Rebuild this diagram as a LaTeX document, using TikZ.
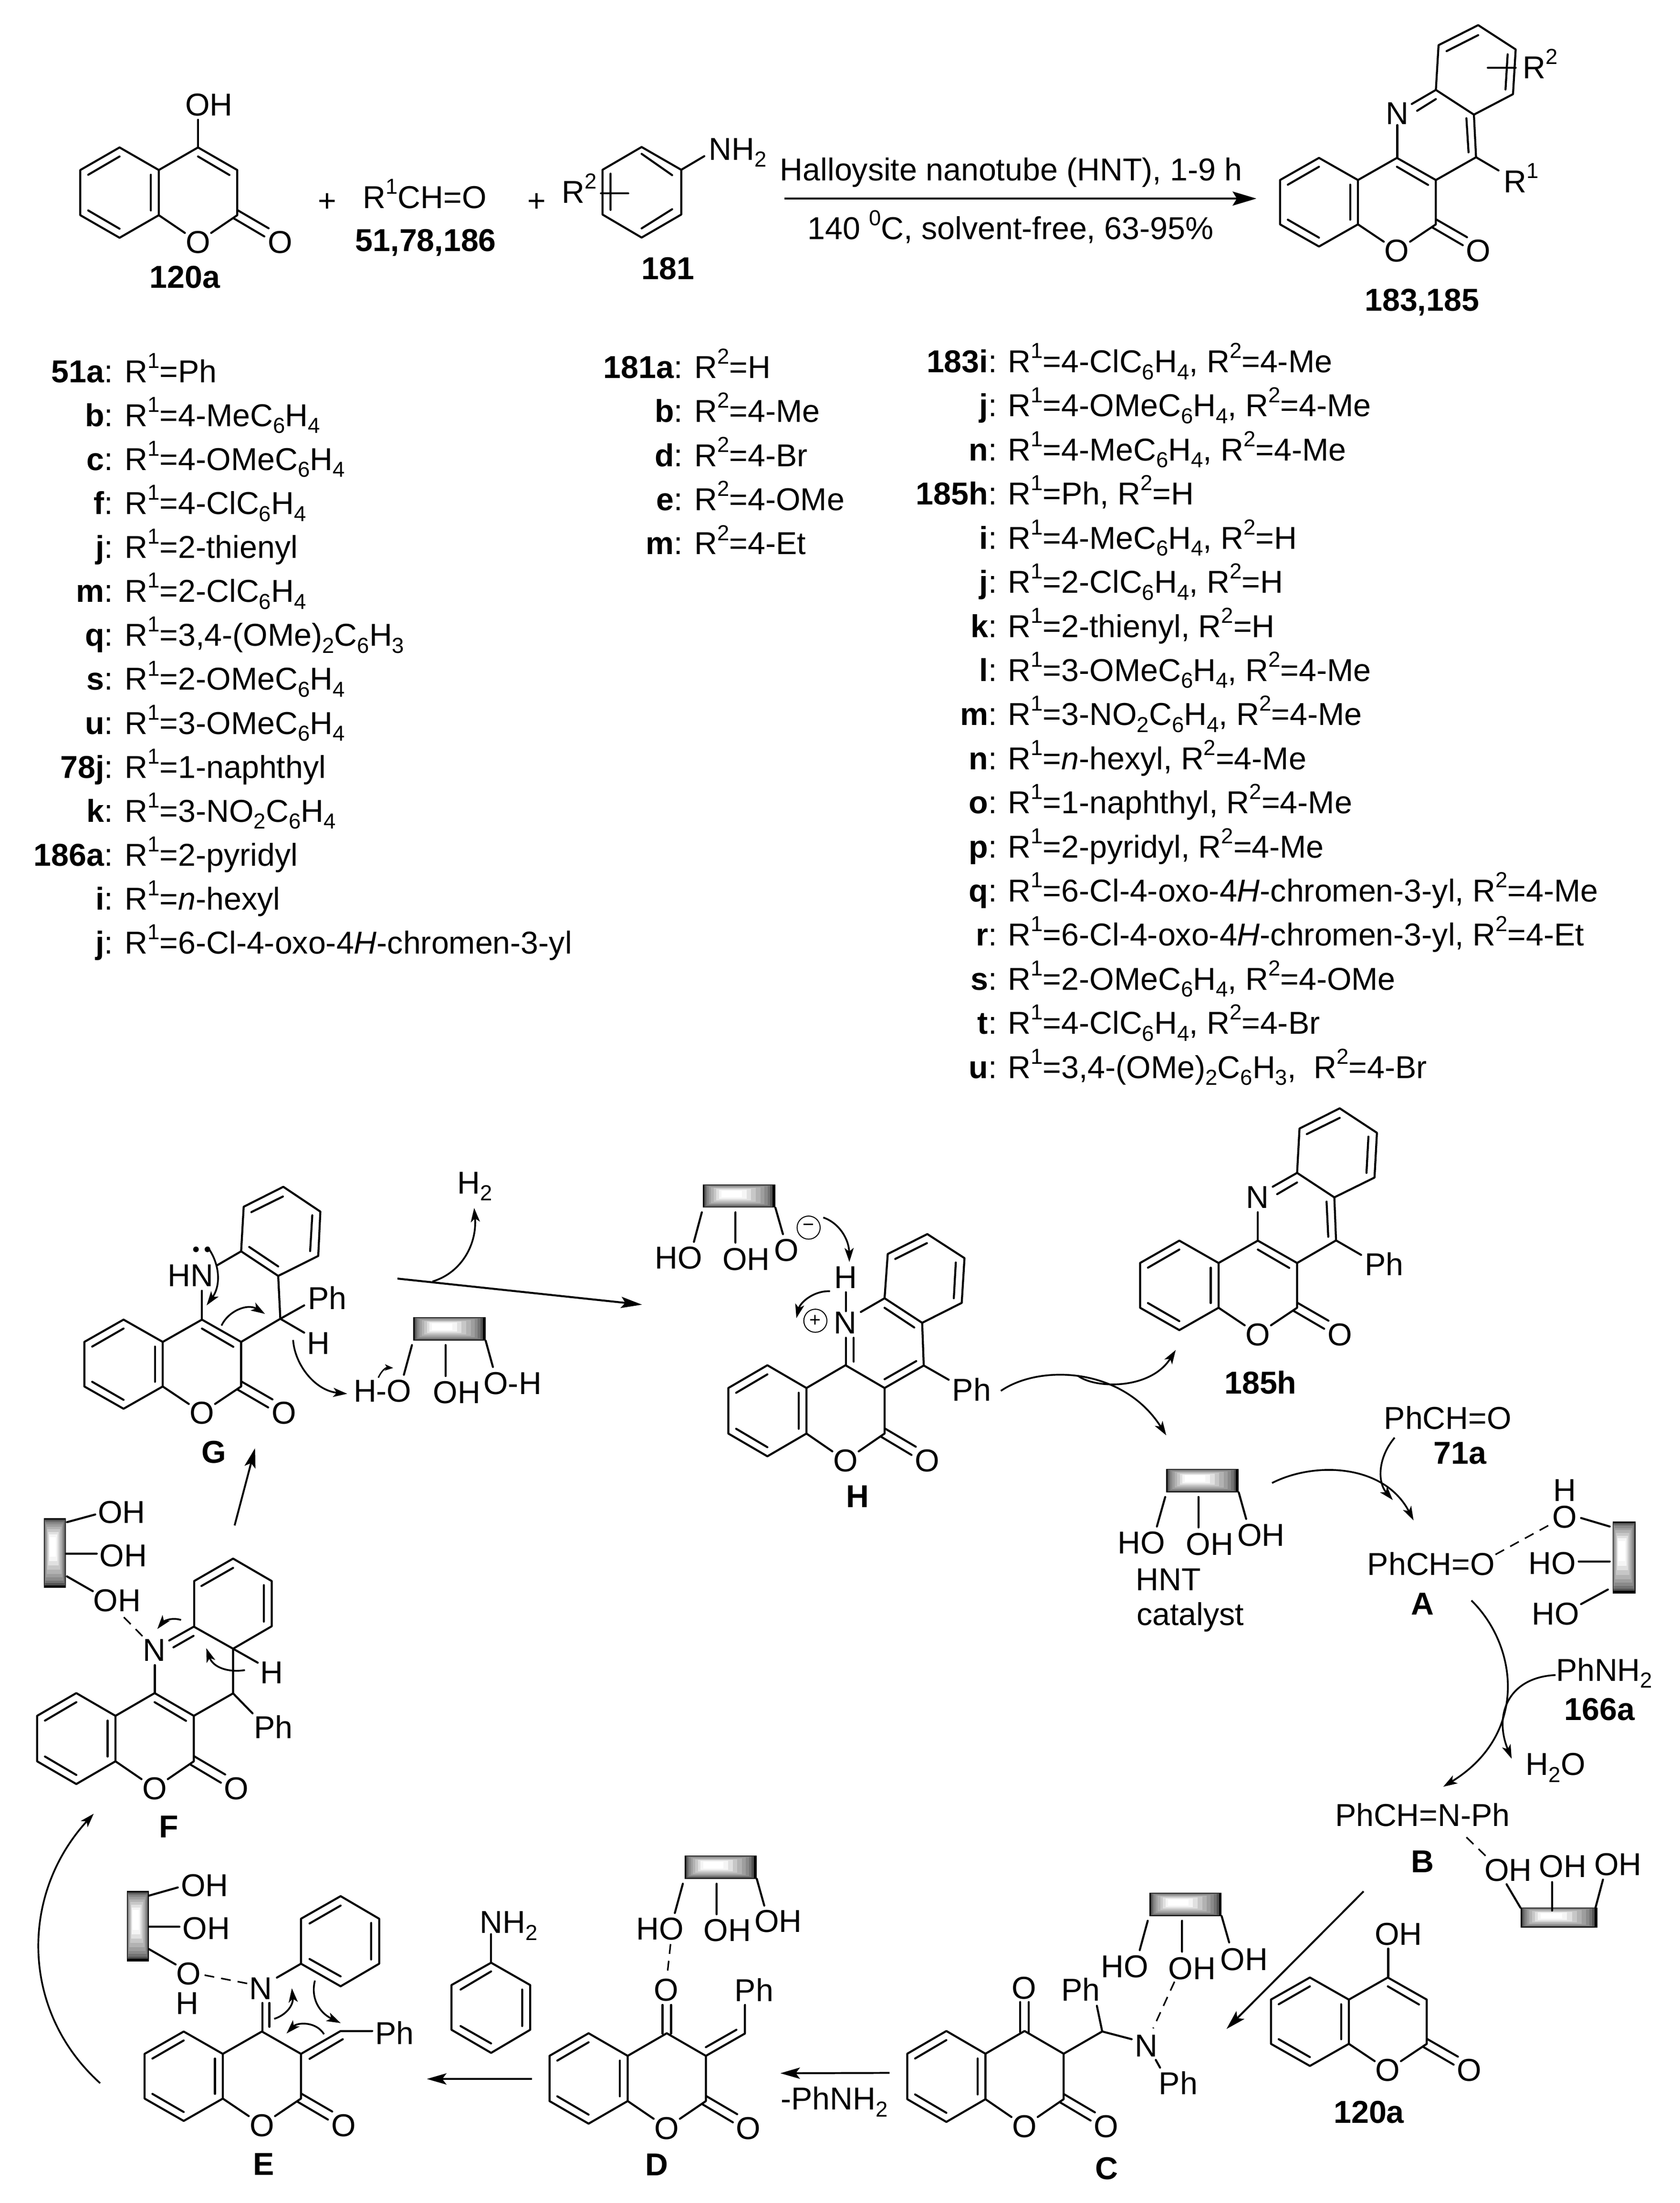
\documentclass[tikz,border=0pt]{standalone}
\usepackage{fontspec}
\setmainfont{Liberation Sans}
\usetikzlibrary{arrows.meta}
\newcommand{\fs}{\fontsize{22.6}{26}\selectfont}
\newcommand{\sps}[1]{\raisebox{0.45em}{\fontsize{15.5}{15.5}\selectfont #1}}
\newcommand{\sbs}[1]{\raisebox{-0.22em}{\fontsize{15.5}{15.5}\selectfont #1}}
\newcounter{lic}
\tikzset{
  lab/.style={font=\fs, inner sep=.4pt, text height=16.2pt, text depth=0pt},
  tagb/.style={lab, font=\fs\bfseries},
  bond/.style={line width=1.45pt, line join=round, line cap=round},
  dbond/.style={line width=1.1pt, dash pattern=on 7pt off 5pt},
  curv/.style={line width=1.25pt, -{Stealth[length=10pt,width=6.5pt,inset=2.5pt]}},
  straight/.style={line width=1.35pt, -{Stealth[length=14pt,width=8pt,inset=3pt]}},
  circ/.style={circle, draw, line width=.7pt, minimum size=16.5pt, inner sep=0pt},
  z1/.style={shift={(0pt,0pt)},x=.38265pt,y=-.15219pt},
  z2/.style={shift={(600pt,0pt)},x=.38265pt,y=-.15219pt},
  z3/.style={shift={(0pt,-801.1pt)},x=.30438pt,y=-.17393pt},
  z4/.style={shift={(443.2pt,-784.1pt)},x=.28264pt,y=-.18480pt},
  z5/.style={shift={(681.8pt,-954.5pt)},x=.33047pt,y=-.21741pt},
  z6/.style={shift={(0pt,-1022.7pt)},x=.21741pt,y=-.19567pt},
  z7/.style={shift={(0pt,-1295.5pt)},x=.38265pt,y=-.17741pt},
  z8/.style={shift={(600pt,-1227.3pt)},x=.38265pt,y=-.22089pt},
  z9/.style={shift={(784.1pt,-767pt)},x=.17393pt,y=-.15219pt},
}
% coumarin skeleton: name, left x, half-width, upper y, lower y
\newcommand{\coum}[5]{%
  \pgfmathsetmacro\cD{#3}\pgfmathsetmacro\cXa{#2}\pgfmathsetmacro\cXb{#2+#3}%
  \pgfmathsetmacro\cXc{#2+2*#3}\pgfmathsetmacro\cXd{#2+3*#3}\pgfmathsetmacro\cXe{#2+4*#3}%
  \pgfmathsetmacro\cH{#5-#4}\pgfmathsetmacro\cYa{#4-.5*\cH}\pgfmathsetmacro\cYd{#5+.5*\cH}%
  \pgfmathsetmacro\cYb{#4}\pgfmathsetmacro\cYc{#5}%
  \pgfmathsetmacro\cYo{#5+.59*\cH}\pgfmathsetmacro\cXo{\cXe+1.09*#3}%
  \node[lab] (#1O) at (\cXd,\cYo) {O};
  \node[lab] (#1Oc) at (\cXo,\cYo) {O};
  \draw[bond] (\cXa,\cYb)--(\cXb,\cYa)--(\cXc,\cYb)--(\cXc,\cYc)--(\cXb,\cYd)--(\cXa,\cYc)--cycle;
  \draw[bond] (\cXc,\cYb)--(\cXd,\cYa)--(\cXe,\cYb)--(\cXe,\cYc)--(#1O);
  \draw[bond] (\cXc,\cYc)--(#1O);
  \draw[bond] ({\cXa+.2*\cD},{\cYb+.105*\cH})--({\cXb},{\cYa+.2*\cH});
  \draw[bond] ({\cXa+.2*\cD},{\cYc-.105*\cH})--({\cXb},{\cYd-.2*\cH});
  \draw[bond] ({\cXc-.2*\cD},{\cYb+.105*\cH})--({\cXc-.2*\cD},{\cYc-.105*\cH});
  \draw[bond] ({\cXe+.01*\cD},{\cYc-.11*\cH})--({\cXe+.8*\cD},{\cYc+.29*\cH});
  \draw[bond] ({\cXe-.09*\cD},{\cYc+.07*\cH})--({\cXe+.69*\cD},{\cYc+.47*\cH});
}
% inner line of the C3=C4 bond of the last skeleton
\newcommand{\ccdb}{\draw[bond] ({\cXd},{\cYa+.2*\cH})--({\cXe-.2*\cD},{\cYb+.11*\cH});}
% stepped grey block: x1,y1,x2,y2
\newcommand{\hnt}[4]{%
  \pgfmathsetmacro\hFx{#1+.36*(#3-#1)}\pgfmathsetmacro\hFy{#2+.38*(#4-#2)}%
  \foreach \t/\c in {0/100,.06/68,.11/55,.17/46,.24/38,.32/30,.42/22,.52/12,.62/4,.72/0}{%
    \pgfmathsetmacro\hA{#1+\t*(\hFx-#1)}\pgfmathsetmacro\hB{#2+\t*(\hFy-#2)}%
    \pgfmathsetmacro\hC{#3+\t*(\hFx-#3)}\pgfmathsetmacro\hD{#4+\t*(\hFy-#4)}%
    \fill[black!\c] (\hA,\hB) rectangle (\hC,\hD);
  }%
}
% list line: y, x where the colon ends, label, x of text, text
\newcommand{\li}[5]{%
  \stepcounter{lic}%
  \node[lab,anchor=east,inner sep=0pt] (lb\arabic{lic}) at (#2,{#1+2}) {\textbf{#3}:};
  \node[lab,anchor=west,inner sep=0pt] (lt\arabic{lic}) at (#4,{#1+2}) {#5};
}
\newcommand{\Rr}[1]{R\sps{#1}=}
\begin{document}
\begin{tikzpicture}[x=1pt,y=-1pt]
\useasboundingbox (0,0) rectangle (1200,1573.6);
\fill[white] (0,0) rectangle (1200,1573.6);

%%%%% top scheme, reactants
\begin{scope}[z1]
  \coum{a}{150}{73.25}{798}{1010}\ccdb
  \node[lab] (aOH) at (390,490) {OH};
  \draw[bond] (370,692)--(370,562);
  \node[tagb] (t120) at (345,1298) {120a};
  \node[lab] (p1) at (611,940) {+};
  \node[lab] (rcho) at (793,925) {R\sps{1}CH=O};
  \node[tagb] (t51) at (795,1125) {51,78,186};
  \node[lab] (p2) at (1002,940) {+};
  \node[lab] (r2a) at (1082,900) {R\sps{2}};
  \draw[bond] (1198,690)--(1272,797)--(1272,1007)--(1198,1115)--(1125,1007)--(1125,797)--cycle;
  \draw[bond] (1198,722)--(1255,822) (1255,982)--(1198,1072) (1140,815)--(1140,985);
  \draw[bond] (1122,908)--(1173,908);
  \draw[bond] (1272,797)--(1315,733);
  \node[lab,anchor=west] (nh2a) at (1322,698) {NH\sbs{2}};
  \node[tagb] (t181) at (1247,1258) {181};
  \coordinate (ra) at (1465,932);
\end{scope}
\begin{scope}[z2]
  \coum{b}{822}{72.75}{845}{1053}\ccdb
  \node[lab] (bN) at (1041,530) {N};
  \draw[bond] (1041,738)--(bN);
  \draw[bond] (1113,422)--(1118,212)--(1192,118)--(1262,232)--(1257,442)--(1184,538)--cycle;
  \draw[bond] (1133,240)--(1192,165) (1247,255)--(1243,420);
  \draw[bond] (1113,422)--(1068,488) (1113,465)--(1078,520);
  \draw[bond] (1184,538)--(1188,738)--(1113,845);
  \draw[bond] (1170,555)--(1174,715);
  \draw[bond] (1188,738)--(1230,800);
  \node[lab] (r1b) at (1272,850) {R\sps{1}};
  \draw[bond] (1210,318)--(1262,318);
  \node[lab] (r2b) at (1308,315) {R\sps{2}};
  \node[tagb] (t183) at (1087,1405) {183,185};
  \coordinate (rb) at (778,932);
\end{scope}
\draw[line width=1.5pt,-{Stealth[length=17pt,width=10pt,inset=3pt]}] (ra)--(rb);
\node[lab] (cond1) at (722.5,121) {Halloysite nanotube (HNT), 1-9 h};
\node[lab] (cond2) at (722,163) {140 \sps{0}C, solvent-free, 63-95\%};

%%%%% substituent lists
\foreach \yy/\lb/\tx in {
 263/51a/{\Rr1Ph},
 294.4/b/{\Rr14-MeC\sbs{6}H\sbs{4}},
 325.8/c/{\Rr14-OMeC\sbs{6}H\sbs{4}},
 357.2/f/{\Rr14-ClC\sbs{6}H\sbs{4}},
 388.6/j/{\Rr12-thienyl},
 420/m/{\Rr12-ClC\sbs{6}H\sbs{4}},
 451.4/q/{\Rr13,4-(OMe)\sbs{2}C\sbs{6}H\sbs{3}},
 482.8/s/{\Rr12-OMeC\sbs{6}H\sbs{4}},
 514.2/u/{\Rr13-OMeC\sbs{6}H\sbs{4}},
 545.6/78j/{\Rr11-naphthyl},
 577/k/{\Rr13-NO\sbs{2}C\sbs{6}H\sbs{4}},
 608.4/186a/{\Rr12-pyridyl},
 639.8/i/{\Rr1\textit{n}-hexyl},
 671.2/j/{\Rr16-Cl-4-oxo-4\textit{H}-chromen-3-yl}}
 {\li{\yy}{81}{\lb}{89}{\tx}}
\foreach \yy/\lb/\tx in {
 260/181a/{\Rr2H},
 291.5/b/{\Rr24-Me},
 323/d/{\Rr24-Br},
 354.5/e/{\Rr24-OMe},
 386/m/{\Rr24-Et}}
 {\li{\yy}{488}{\lb}{496}{\tx}}
\foreach \yy/\lb/\tx in {
 256/183i/{\Rr14-ClC\sbs{6}H\sbs{4}, \Rr24-Me},
 287.5/j/{\Rr14-OMeC\sbs{6}H\sbs{4}, \Rr24-Me},
 319/n/{\Rr14-MeC\sbs{6}H\sbs{4}, \Rr24-Me},
 350.5/185h/{\Rr1Ph, \Rr2H},
 382/i/{\Rr14-MeC\sbs{6}H\sbs{4}, \Rr2H},
 413.5/j/{\Rr12-ClC\sbs{6}H\sbs{4}, \Rr2H},
 445/k/{\Rr12-thienyl, \Rr2H},
 476.5/l/{\Rr13-OMeC\sbs{6}H\sbs{4}, \Rr24-Me},
 508/m/{\Rr13-NO\sbs{2}C\sbs{6}H\sbs{4}, \Rr24-Me},
 539.5/n/{\Rr1\textit{n}-hexyl, \Rr24-Me},
 571/o/{\Rr11-naphthyl, \Rr24-Me},
 602.5/p/{\Rr12-pyridyl, \Rr24-Me},
 634/q/{\Rr16-Cl-4-oxo-4\textit{H}-chromen-3-yl, \Rr24-Me},
 665.5/r/{\Rr16-Cl-4-oxo-4\textit{H}-chromen-3-yl, \Rr24-Et},
 697/s/{\Rr12-OMeC\sbs{6}H\sbs{4}, \Rr24-OMe},
 728.5/t/{\Rr14-ClC\sbs{6}H\sbs{4}, \Rr24-Br},
 760/u/{\Rr13,4-(OMe)\sbs{2}C\sbs{6}H\sbs{3},\ \ \Rr24-Br}}
 {\li{\yy}{712.5}{\lb}{720}{\tx}}

%%%%% G
\begin{scope}[z3]
  \coum{g}{198}{92}{905}{1088}\ccdb
  \node[lab] (gN) at (447,630) {HN};
  \draw[bond] (474,810)--(474,695);
  \draw[bond] (510,590)--(566,533);
  \draw[bond] (566,533)--(572,350)--(665,268)--(752,370)--(747,552)--(653,634)--cycle;
  \draw[bond] (590,372)--(664,308) (733,385)--(728,532) (585,515)--(653,595);
  \draw[bond] (653,634)--(658,810)--(566,905);
  \draw[bond] (658,810)--(714,755) (658,810)--(714,867);
  \node[lab] (gPh) at (768,725) {Ph};
  \node[lab] (gH) at (748,908) {H};
  \fill (460,525) circle[radius=2pt] (487,525) circle[radius=2pt];
  \draw[curv] (487,515) .. controls (515,580) and (520,670) .. (485,755);
  \draw[curv] (520,838) .. controls (535,780) and (580,745) .. (622,790);
  \draw[curv] (688,897) .. controls (692,1000) and (740,1105) .. (815,1118);
  \draw[curv,line width=1pt,-{Stealth[length=6pt,width=4.5pt,inset=1.5pt]}] (888,1052) .. controls (895,1025) and (905,1010) .. (923,1012);
  \hnt{970}{803}{1140}{900}
  \draw[bond] (967,918)--(948,1040) (1046,918)--(1046,1045) (1140,900)--(1157,1008);
  \node[lab] (ho1) at (898,1105) {H-O};
  \node[lab] (ho2) at (1072,1110) {OH};
  \node[lab] (ho3) at (1203,1073) {O-H};
  \node[lab] (h2) at (1115,250) {H\sbs{2}};
  \draw[curv] (1015,657) .. controls (1085,620) and (1120,500) .. (1113,355);
  \draw[line width=1.4pt,-{Stealth[length=15pt,width=8pt,inset=3pt]}] (933,645)--(1507,752);
  \node[tagb] (tG) at (502,1355) {G};
\end{scope}

%%%%% H
\begin{scope}[z4]
  \coum{h}{273}{98.75}{1122}{1298}
  \node[lab] (hN) at (568,868) {N};
  \node[lab] (hH) at (570,693) {H};
  \draw[bond] (570,1035)--(570,928) (590,1020)--(590,928);
  \draw[bond] (570,825)--(570,752);
  \draw[bond] (608,828)--(668,775);
  \draw[bond] (668,775)--(676,604)--(776,527)--(870,620)--(863,793)--(763,870)--cycle;
  \draw[bond] (695,623)--(775,562) (848,637)--(843,775) (668,812)--(743,888);
  \draw[bond] (763,870)--(767,1035)--(668,1122);
  \draw[bond] (748,1018)--(668,1088);
  \draw[bond] (767,1035)--(830,1090);
  \node[lab] (hPh) at (888,1128) {Ph};
  \node[circ] (hp) at (493,862) {\fontsize{14}{14}\selectfont +};
  \node[circ] (hm) at (476,502) {\fontsize{14}{14}\selectfont −};
  \hnt{208}{335}{392}{425}
  \draw[bond] (206,443)--(186,557) (291,443)--(291,560) (392,425)--(411,527);
  \node[lab] (hho1) at (147,617) {HO};
  \node[lab] (hho2) at (318,622) {OH};
  \node[lab] (hho3) at (420,588) {O};
  \draw[curv] (513,463) .. controls (555,485) and (578,550) .. (579,635);
  \draw[curv] (530,748) .. controls (490,745) and (455,790) .. (445,852);
  \draw[curv] (962,1133) .. controls (1060,1030) and (1270,1040) .. (1380,1305);
  \draw[curv] (1157,1075) .. controls (1200,1125) and (1340,1130) .. (1404,975);
  \node[tagb] (tH) at (600,1540) {H};
\end{scope}

%%%%% 185h
\begin{scope}[z9]
  \coum{p}{175}{161.25}{888}{1098}\ccdb
  \node[lab] (pN) at (658,577) {N};
  \draw[bond] (659,782)--(659,650);
  \draw[bond] (720,530)--(820,465) (738,565)--(820,510);
  \draw[bond] (820,465)--(830,257)--(995,162)--(1148,277)--(1138,487)--(973,580)--cycle;
  \draw[bond] (860,283)--(995,207) (1113,295)--(1105,465);
  \draw[bond] (973,580)--(980,782)--(820,888);
  \draw[bond] (941,600)--(948,765);
  \draw[bond] (980,782)--(1083,850);
  \node[lab] (pPh) at (1178,893) {Ph};
  \node[tagb] (t185) at (670,1448) {185h};
\end{scope}

%%%%% catalyst and A
\begin{scope}[z5]
  \node[lab] (al) at (1067,267) {PhCH=O};
  \node[tagb] (t71) at (1093,382) {71a};
  \draw[curv] (952,333) .. controls (915,400) and (915,480) .. (948,538);
  \draw[curv] (687,482) .. controls (780,410) and (930,420) .. (993,605);
  \hnt{458}{436}{615}{513}
  \draw[bond] (456,528)--(438,625) (528,528)--(528,628) (615,513)--(631,600);
  \node[lab] (cho1) at (405,677) {HO};
  \node[lab] (cho2) at (552,682) {OH};
  \node[lab] (cho3) at (663,652) {OH};
  \node[lab] (hnt) at (463,797) {HNT};
  \node[lab] (cat) at (510,912) {catalyst};
  \node[lab] (aal) at (1031,747) {PhCH=O};
  \node[tagb] (tA) at (1012,877) {A};
  \node[lab] (aO) at (1320,592) {O};
  \node[lab] (aH) at (1320,505) {H};
  \draw[dbond] (1170,717)--(1290,617);
  \hnt{1423}{608}{1473}{845}
  \draw[bond] (1355,597)--(1417,625) (1350,740)--(1417,740) (1355,880)--(1413,832);
  \node[lab] (aho1) at (1293,744) {HO};
  \node[lab] (aho2) at (1300,910) {HO};
  \draw[curv] (1118,868) .. controls (1220,1020) and (1240,1310) .. (1057,1480);
  \node[lab] (an) at (1405,1095) {PhNH\sbs{2}};
  \node[tagb] (t166) at (1395,1225) {166a};
  \node[lab] (wat) at (1300,1405) {H\sbs{2}O};
  \draw[curv] (1300,1113) .. controls (1200,1120) and (1165,1240) .. (1205,1388);
\end{scope}

%%%%% B, C, lower 120a
\begin{scope}[z8]
  \node[lab] (im) at (1088,313) {PhCH=N-Ph};
  \node[tagb] (tB) at (1088,463) {B};
  \draw[dbond] (1170,385)--(1210,452);
  \node[lab] (boh1) at (1248,490) {OH};
  \node[lab] (boh2) at (1350,478) {OH};
  \node[lab] (boh3) at (1453,472) {OH};
  \hnt{1271}{613}{1415}{677}
  \draw[bond] (1245,537)--(1271,613) (1330,530)--(1330,622) (1425,522)--(1411,613);
  \draw[straight] (978,560)--(722,1005);
  \hnt{578}{565}{713}{640}
  \draw[bond] (575,655)--(560,750) (639,655)--(639,755) (713,640)--(727,725);
  \node[lab] (coh1) at (532,802) {HO};
  \node[lab] (coh2) at (658,808) {OH};
  \node[lab] (coh3) at (755,778) {OH};
  \coum{c}{126}{73}{1085}{1232}
  \node[lab] (cOt) at (344,872) {O};
  \draw[bond] (337,1015)--(337,918) (353,1015)--(353,918);
  \draw[bond] (418,1085)--(490,1013)--(480,930);
  \draw[bond] (490,1013)--(545,1038);
  \node[lab] (cPh) at (450,878) {Ph};
  \node[lab] (cN) at (572,1058) {N};
  \draw[bond] (590,1105)--(598,1130);
  \node[lab] (cPh2) at (632,1180) {Ph};
  \draw[dbond] (625,852)--(585,1003);
  \node[tagb] (tC) at (498,1455) {C};
  \coum{l}{805}{72.75}{910}{1053}\ccdb
  \node[lab] (lOH) at (1043,697) {OH};
  \draw[bond] (1024,835)--(1024,745);
  \node[tagb] (tl) at (988,1272) {120a};
  \coordinate (cd) at (93,1147);
\end{scope}

%%%%% F
\begin{scope}[z6]
  \coum{f}{122}{128.75}{1037}{1203}\ccdb
  \hnt{145}{315}{217}{570}
  \draw[bond] (220,330)--(313,302) (217,445)--(318,445) (220,528)--(305,582);
  \node[lab] (foh1) at (400,292) {OH};
  \node[lab] (foh2) at (405,450) {OH};
  \node[lab] (foh3) at (385,615) {OH};
  \draw[dbond] (407,677)--(470,748);
  \node[lab] (fN) at (507,795) {N};
  \draw[bond] (509,955)--(509,852);
  \draw[bond] (556,762)--(636,712) (570,787)--(636,745);
  \draw[bond] (638,712)--(638,545)--(766,463)--(893,545)--(893,710)--(766,792)--cycle;
  \draw[bond] (662,563)--(766,497) (867,560)--(867,693);
  \draw[bond] (766,792)--(766,955)--(637,1037);
  \draw[bond] (766,955)--(830,1028) (766,792)--(847,843);
  \node[lab] (fPh) at (898,1078) {Ph};
  \node[lab] (fH) at (893,878) {H};
  \draw[curv] (595,687) .. controls (560,675) and (535,695) .. (517,720);
  \draw[curv] (805,870) .. controls (750,880) and (700,860) .. (678,790);
  \node[tagb] (tF) at (555,1440) {F};
  \draw[straight] (771,342)--(838,60);
\end{scope}

%%%%% E, aniline, D
\begin{scope}[z7]
  \coum{e}{270}{73}{967}{1147}
  \hnt{237}{310}{278}{595}
  \draw[bond] (278,330)--(332,297) (278,455)--(335,455) (278,545)--(328,607);
  \node[lab] (eoh1) at (382,287) {OH};
  \node[lab] (eoh2) at (385,460) {OH};
  \node[lab] (eO) at (352,642) {O};
  \node[lab] (eH) at (350,762) {H};
  \draw[dbond] (382,650)--(465,685);
  \node[lab] (eN) at (487,702) {N};
  \draw[bond] (490,875)--(490,762) (503,858)--(503,762);
  \draw[bond] (517,660)--(562,604);
  \draw[bond] (562,604)--(562,423)--(636,332)--(708,423)--(708,604)--(636,695)--cycle;
  \draw[bond] (578,442)--(636,370) (693,440)--(693,587) (578,585)--(636,655);
  \draw[bond] (562,967)--(636,875)--(695,875);
  \draw[bond] (578,987)--(640,908);
  \node[lab] (ePh) at (737,882) {Ph};
  \draw[curv] (512,826) .. controls (535,810) and (548,770) .. (545,703);
  \draw[curv] (588,672) .. controls (580,740) and (595,800) .. (636,843);
  \draw[curv] (605,888) .. controls (590,835) and (555,840) .. (535,885);
  \node[tagb] (tE) at (492,1410) {E};
  \draw[curv] (187,1085) .. controls (40,800) and (35,330) .. (175,0);
  \draw[straight] (993,1068)--(797,1068);
  % aniline
  \node[lab] (anN) at (950,435) {NH\sbs{2}};
  \draw[bond] (917,600)--(917,485);
  \draw[bond] (917,600)--(990,690)--(990,870)--(917,963)--(843,870)--(843,690)--cycle;
  \draw[bond] (860,708)--(917,635) (975,708)--(975,855) (860,855)--(917,925);
  % D
  \coum{d}{1026}{73}{975}{1157}
  \hnt{1278}{168}{1413}{262}
  \draw[bond] (1275,282)--(1260,400) (1338,282)--(1338,405) (1413,262)--(1427,370);
  \node[lab] (doh1) at (1232,463) {HO};
  \node[lab] (doh2) at (1358,468) {OH};
  \node[lab] (doh3) at (1453,432) {OH};
  \draw[dbond] (1252,525)--(1246,645);
  \node[lab] (dOt) at (1244,708) {O};
  \draw[bond] (1237,885)--(1237,770) (1253,885)--(1253,770);
  \draw[bond] (1318,975)--(1391,885)--(1391,770);
  \draw[bond] (1318,940)--(1375,870);
  \node[lab] (dPh) at (1408,710) {Ph};
  \node[tagb] (tD) at (1226,1412) {D};
  \coordinate (de) at (1457,1045);
\end{scope}
\draw[straight] (cd)--(de);
\node[lab] (minus) at (596,1499) {-PhNH\sbs{2}};
\end{tikzpicture}
\end{document}
